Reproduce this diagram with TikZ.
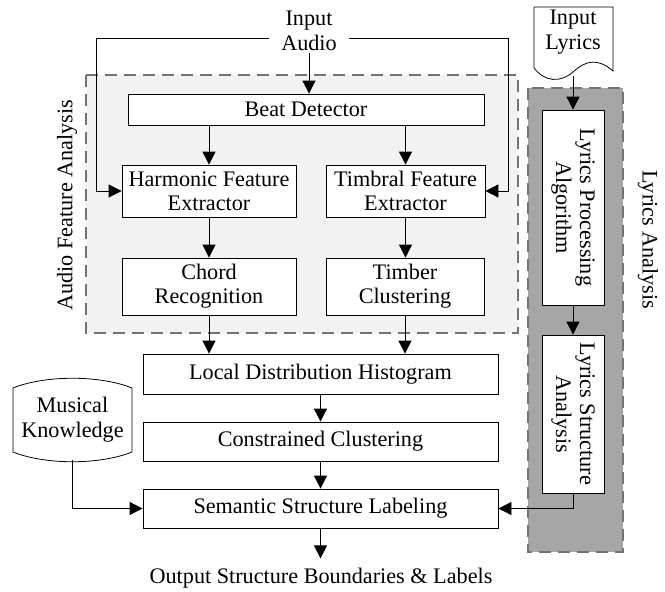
\documentclass[tikz,border=0pt]{standalone}
\usepackage{fontspec}
\setmainfont{Liberation Serif}
\usetikzlibrary{arrows.meta}
\definecolor{lightbg}{RGB}{242,242,242}
\definecolor{darkbg}{RGB}{166,166,166}
\definecolor{dashc}{RGB}{115,115,115}
\begin{document}
\begin{tikzpicture}[x=1pt,y=-1pt,
  font=\fontsize{22.2}{26}\selectfont,
  box/.style={draw=black, line width=0.8pt, fill=white, inner sep=0pt, align=center},
  arr/.style={-{Triangle[length=13pt,width=13pt]}, line width=0.8pt},
  grp/.style={draw=dashc, line width=2pt, dash pattern=on 12pt off 7pt},
  lbl/.style={inner sep=0pt, align=center}]
\useasboundingbox (0,0) rectangle (665,592);

% groups
\path[grp, fill=lightbg] (86,75) rectangle (518,333);
\path[grp, fill=darkbg] (528,88) rectangle (623,552);
\node[lbl, rotate=90] (afa) at (67,205) {Audio Feature Analysis};
\node[lbl, rotate=-90] (lan) at (648,240) {Lyrics Analysis};

% input audio
\node[align=center, inner xsep=12pt, inner ysep=2pt] (ia) at (309,31) {Input\\[-1pt]Audio};
\coordinate (ly) at (0,38);

% audio boxes
\node[box, minimum width=356pt, minimum height=31pt] (beat) at (306,109.5) {Beat Detector};
\node[box, minimum width=174pt, minimum height=52pt] (harm) at (209,191) {Harmonic Feature\\[-2pt]Extractor};
\node[box, minimum width=159pt, minimum height=52pt] (timb) at (405.5,191) {Timbral Feature\\[-2pt]Extractor};
\node[box, minimum width=174pt, minimum height=57pt] (chord) at (209,286.5) {Chord\\[-2pt]Recognition};
\node[box, minimum width=158pt, minimum height=57pt] (clus) at (405,286.5) {Timber\\[-2pt]Clustering};

% main column
\node[box, minimum width=355pt, minimum height=40pt] (local) at (320.5,374) {Local Distribution Histogram};
\node[box, minimum width=355pt, minimum height=39pt] (cons) at (320.5,441.5) {Constrained Clustering};
\node[box, minimum width=355pt, minimum height=39pt] (sem) at (320.5,508.5) {Semantic Structure Labeling};
\node[lbl] (out) at (321,578) {Output Structure Boundaries \& Labels};

% lyrics
\node[box, rotate=-90, minimum width=195pt, minimum height=62pt] (lpa) at (573,207.5) {Lyrics Processing\\[-2pt]Algorithm};
\node[box, rotate=-90, minimum width=158pt, minimum height=62pt] (lsa) at (573,414) {Lyrics Structure\\[-2pt]Analysis};

% input lyrics document
\draw[line width=0.8pt, fill=white] (534,7) -- (613,7) -- (613,71)
  .. controls (598,58) and (586,60) .. (573,72)
  .. controls (560,83) and (545,82) .. (534,68) -- cycle;
\node[lbl] (il) at (573,32) {Input\\[-1pt]Lyrics};
\coordinate (ilb) at (573,76);

% musical knowledge
\draw[line width=0.8pt, fill=white] (13,388) .. controls (45,375) and (100,375) .. (132,388)
  -- (132,452) .. controls (100,465) and (45,465) .. (13,452) -- cycle;
\node[lbl] (mk) at (72.5,420) {Musical\\[-1pt]Knowledge};
\coordinate (mkb) at (72,460);

% connectors
\draw[arr] (ia.south) -- (ia.south |- beat.north);
\draw[arr] (ia.west |- ly) -- (96,38) |- (harm.west);
\draw[arr] (ia.east |- ly) -- (508,38) |- (timb.east);
\draw[arr] (beat.south -| harm.north) -- (harm.north);
\draw[arr] (beat.south -| timb.north) -- (timb.north);
\draw[arr] (harm.south) -- (chord.north);
\draw[arr] (timb.south) -- (timb.south |- clus.north);
\draw[arr] (chord.south) -- (chord.south |- local.north);
\draw[arr] (clus.south) -- (clus.south |- local.north);
\draw[arr] (local.south) -- (cons.north);
\draw[arr] (cons.south) -- (sem.north);
\draw[arr] (sem.south) -- ++(0,30);
\draw[arr] (mkb) |- (sem.west);
\draw[arr] (ilb) -- (lpa.west);
\draw[arr] (lpa.east) -- (lsa.west);
\draw[arr] (lsa.east) |- (sem.east);
\end{tikzpicture}
\end{document}
